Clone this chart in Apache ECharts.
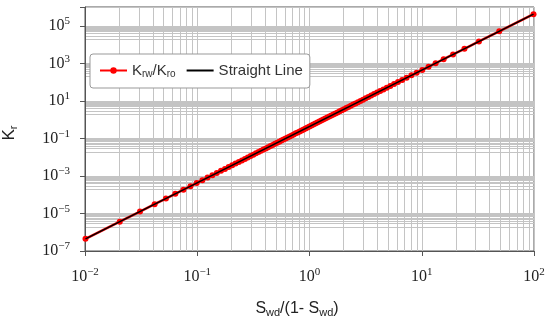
<!DOCTYPE html>
<html><head><meta charset="utf-8">
<script src="https://cdn.jsdelivr.net/npm/echarts@6/dist/echarts.min.js"></script>
<style>html,body{margin:0;padding:0;background:#fff}#c{width:550px;height:320px}</style>
</head><body><div id="c"></div>
<script>
// Swd/(1-Swd) values
var xVals = [0.0101,0.0204,0.0309,0.0417,0.0526,0.0638,0.0753,0.0870,0.0989,0.1111,
0.1236,0.1364,0.1494,0.1628,0.1765,0.1905,0.2048,0.2195,0.2346,0.25,
0.2658,0.2821,0.2987,0.3158,0.3333,0.3514,0.3699,0.3889,0.4085,0.4286,
0.4493,0.4706,0.4925,0.5152,0.5385,0.5625,0.5873,0.6129,0.6393,0.6667,
0.6949,0.7241,0.7544,0.7857,0.8182,0.8519,0.8868,0.9231,0.9608,1,
1.0408,1.0833,1.1277,1.1739,1.2222,1.2727,1.3256,1.381,1.439,1.5,
1.5641,1.6316,1.7027,1.7778,1.8571,1.9412,2.0303,2.125,2.2258,2.3333,
2.4483,2.5714,2.7037,2.8462,3,3.1667,3.3478,3.5455,3.7619,4,
4.2632,4.5556,4.8824,5.25,5.6667,6.1429,6.6923,7.3333,8.0909,9,
10.111,11.5,13.286,15.667,19,24,32.333,49,99];
// Krw/Kro values
var krVals = [4.43e-7,3.65e-6,1.27e-5,3.12e-5,6.26e-5,1.12e-4,1.84e-4,2.83e-4,4.16e-4,5.90e-4,
8.12e-4,1.09e-3,1.43e-3,1.86e-3,2.36e-3,2.97e-3,3.69e-3,4.55e-3,5.55e-3,6.72e-3,
8.08e-3,9.65e-3,1.15e-2,1.35e-2,1.59e-2,1.87e-2,2.18e-2,2.53e-2,2.93e-2,3.39e-2,
3.90e-2,4.48e-2,5.14e-2,5.88e-2,6.71e-2,7.65e-2,8.71e-2,9.90e-2,0.112,0.127,
0.144,0.163,0.185,0.209,0.236,0.266,0.300,0.338,0.381,0.430,
0.485,0.547,0.617,0.696,0.785,0.886,1.00,1.13,1.28,1.45,
1.65,1.87,2.12,2.42,2.75,3.15,3.60,4.13,4.74,5.46,
6.31,7.31,8.50,9.91,11.6,13.7,16.1,19.2,22.9,27.5,
33.3,40.7,50.0,62.2,78.2,99.7,129,170,228,313,
444,654,1008,1654,2949,5944,14535,50589,417229];
// Straight line end points
var lineX = [0.0101, 99];
var lineY = [4.43e-7, 417229];
var seriesNames = ['Krw/Kro', 'Straight Line'];

var sup = function (v) {
  var e = Math.round(Math.log10(v));
  return '{b|10}{s|' + String(e).replace('-', '\u2212') + '}';
};
// minor grid lines: [x, y, orientation] (0 = vertical, 1 = horizontal)
var minorGrid = [];
for (var d = -2; d <= 1; d++) for (var m = 2; m <= 9; m++) minorGrid.push([m * Math.pow(10, d), 1, 0]);
[-6, -4, -2, 0, 2, 4].forEach(function (d) { for (var m = 2; m <= 9; m++) minorGrid.push([1, m * Math.pow(10, d), 1]); });

var gridColor = '#c4c4c4';
var tickRich = {
  b: {fontFamily: 'Liberation Serif', fontSize: 16, color: '#222'},
  s: {fontFamily: 'Liberation Serif', fontSize: 11, color: '#222', padding: [0, 0, 9, 0]}
};
var chart = echarts.init(document.getElementById('c'), null, {renderer: 'canvas'});
chart.setOption({
  animation: false,
  grid: {left: 85, right: 16, top: 7, bottom: 69, show: true, borderColor: '#555', borderWidth: 1,
         containLabel: false, outerBoundsMode: 'none'},
  legend: {
    left: 90, top: 54, orient: 'horizontal', z: 10,
    padding: [9, 7, 9, 9], itemGap: 10, itemWidth: 27, itemHeight: 8,
    backgroundColor: '#fff', borderColor: '#999', borderWidth: 1, borderRadius: 3,
    data: [{name: seriesNames[0]}, {name: seriesNames[1], itemStyle: {opacity: 0}}],
    formatter: function (n) { return n === 'Krw/Kro' ? '{a|K}{s|rw}{a|/K}{s|ro}' : '{a|' + n + '}'; },
    textStyle: {
      rich: {
        a: {fontFamily: 'Liberation Sans', fontSize: 15, color: '#333'},
        s: {fontFamily: 'Liberation Sans', fontSize: 10, color: '#333', padding: [7, 0, 0, 0]}
      }
    }
  },
  xAxis: {
    type: 'log', logBase: 10, min: 0.01, max: 100, interval: 1,
    name: '{a|S}{s|wd}{a|/(1- S}{s|wd}{a|)}', nameLocation: 'middle', nameGap: 48,
    nameTextStyle: {
      padding: [0, 25, 0, 0],
      rich: {
        a: {fontFamily: 'Liberation Sans', fontSize: 16, color: '#222'},
        s: {fontFamily: 'Liberation Sans', fontSize: 11, color: '#222', padding: [8, 0, 0, 0]}
      }
    },
    axisLine: {show: true, lineStyle: {color: '#555', width: 1}},
    axisTick: {show: true, inside: false, length: 5, lineStyle: {color: '#555'}},
    axisLabel: {margin: 16, formatter: sup, rich: tickRich},
    splitLine: {show: true, lineStyle: {color: gridColor, width: 1}}
  },
  yAxis: {
    type: 'log', logBase: 10, min: 1e-7, max: 1e6, interval: 2,
    name: '{a|K}{s|r}', nameLocation: 'middle', nameGap: 66, nameRotate: 90,
    nameTextStyle: {
      padding: [0, 8, 0, 0],
      rich: {
        a: {fontFamily: 'Liberation Sans', fontSize: 17, color: '#222'},
        s: {fontFamily: 'Liberation Sans', fontSize: 11, color: '#222', padding: [8, 0, 0, 0]}
      }
    },
    axisLine: {show: true, lineStyle: {color: '#555', width: 1}},
    axisTick: {show: true, inside: false, length: 5, lineStyle: {color: '#555'}},
    axisLabel: {margin: 15, formatter: function (v) {
      var e = Math.round(Math.log10(v));
      return (Math.abs(e) % 2 === 1) ? sup(v) : '';
    }, rich: tickRich},
    splitLine: {show: true, lineStyle: {color: gridColor, width: 1}}
  },
  series: [
    {
      type: 'custom', silent: true, z: 0, clip: true,
      data: minorGrid,
      encode: {x: 0, y: 1},
      renderItem: function (params, api) {
        var cs = params.coordSys;
        var p = api.coord([api.value(0), api.value(1)]);
        var shape;
        if (api.value(2) === 0) {
          var x = Math.round(p[0]) + 0.5;
          shape = {x1: x, y1: cs.y, x2: x, y2: cs.y + cs.height};
        } else {
          var y = Math.round(p[1]) + 0.5;
          shape = {x1: cs.x, y1: y, x2: cs.x + cs.width, y2: y};
        }
        return {type: 'line', shape: shape, style: {stroke: gridColor, lineWidth: 1}};
      }
    },
    {
      name: seriesNames[0], type: 'line', z: 3,
      data: xVals.map(function (x, i) { return [x, krVals[i]]; }),
      symbol: 'circle', symbolSize: 6,
      itemStyle: {color: '#ff0000'},
      lineStyle: {color: '#ff0000', width: 2.5}
    },
    {
      name: seriesNames[1], type: 'line', z: 4,
      data: lineX.map(function (x, i) { return [x, lineY[i]]; }),
      showSymbol: false, symbol: 'none',
      itemStyle: {color: '#000'},
      lineStyle: {color: '#000', width: 1.6}
    }
  ]
});
</script></body></html>
